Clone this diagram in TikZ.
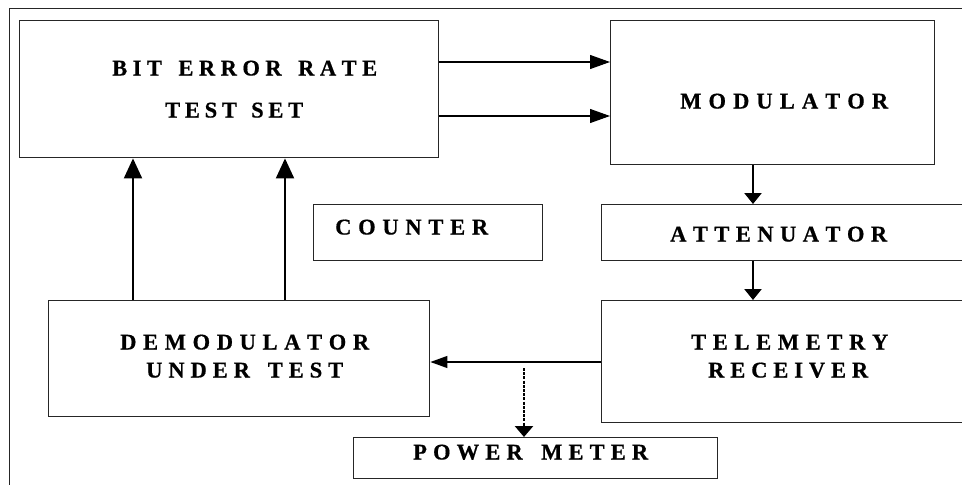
\documentclass[tikz,border=0pt]{standalone}
\usepackage{fontspec}
\setmainfont{Liberation Serif}
\newfontfamily\lblfont{Liberation Serif}[UprightFont=* Bold, FakeBold=0.6]
\usetikzlibrary{arrows.meta}
\makeatletter
\newcommand\sptext[2]{\makebox[#1][s]{\sp@first#2\relax}}
\def\sp@first#1{#1\sp@loop}
\def\sp@loop#1{\ifx#1\relax\else\ifx#1*\hfil\hfil\else\hfil#1\fi\expandafter\sp@loop\fi}
\makeatother
\tikzset{
  box/.style={draw=black!85, line width=1.4pt, rectangle, inner sep=0pt, anchor=north west},
  lbl/.style={anchor=base west, inner sep=0pt, font=\lblfont\fontsize{22.5}{27}\selectfont},
  harrow/.style={line width=1.1pt, -{Triangle[length=20pt,width=14pt]}},
  uparrow/.style={line width=2pt, -{Triangle[length=20pt,width=18pt]}},
  dnarrow/.style={line width=2.5pt, -{Triangle[length=11pt,width=17pt]}},
  larrow/.style={line width=1.1pt, -{Triangle[length=17pt,width=12pt]}},
  dotarrow/.style={line width=2.6pt, dash pattern=on 3pt off 1.2pt, -{Triangle[length=11pt,width=18pt]}},
}
\begin{document}
\begin{tikzpicture}[x=1pt,y=-1pt]
\useasboundingbox (0,0) rectangle (962,485);
\fill[white] (0,0) rectangle (962,485);
% outer frame
\draw[line width=1pt, black!85] (9,485) -- (9,8) -- (962,8);
% boxes
\node[box, minimum width=419pt, minimum height=137pt] (bert) at (19,20) {};
\node[box, minimum width=324pt, minimum height=144pt] (mod) at (610,20) {};
\node[box, minimum width=229pt, minimum height=56pt] (cnt) at (313,204) {};
\node[box, minimum width=374pt, minimum height=56pt] (att) at (601,204) {};
\node[box, minimum width=381pt, minimum height=116pt] (demod) at (48,300) {};
\node[box, minimum width=374pt, minimum height=122pt] (tel) at (601,300) {};
\node[box, minimum width=364pt, minimum height=41pt] (pwr) at (353,437) {};
% labels
\node[lbl] (t1) at (112,75.5) {\sptext{265pt}{BIT*ERROR*RATE}};
\node[lbl] (t2) at (165,117.5) {\sptext{138pt}{TEST*SET}};
\node[lbl] (t3) at (680,108.5) {\sptext{208pt}{MODULATOR}};
\node[lbl] (t4) at (335,234.5) {\sptext{153pt}{COUNTER}};
\node[lbl] (t5) at (670,241.5) {\sptext{217pt}{ATTENUATOR}};
\node[lbl] (t6) at (691,349.5) {\sptext{197pt}{TELEMETRY}};
\node[lbl] (t7) at (708,377.5) {\sptext{160pt}{RECEIVER}};
\node[lbl] (t8) at (120,349.5) {\sptext{249pt}{DEMODULATOR}};
\node[lbl] (t9) at (146,377.5) {\sptext{197pt}{UNDER*TEST}};
\node[lbl] (t10) at (413,459.5) {\sptext{235pt}{POWER*METER}};
% helper coordinates
\coordinate (ya) at (0,62);
\coordinate (yb) at (0,116);
\coordinate (xa) at (133,0);
\coordinate (xb) at (285,0);
\coordinate (xc) at (753,0);
\coordinate (yc) at (0,362);
\coordinate (dstart) at (524,368);
% connectors
\draw[harrow] (bert.east |- ya) -- (mod.west |- ya);
\draw[harrow] (bert.east |- yb) -- (mod.west |- yb);
\draw[uparrow] (demod.north -| xa) -- (bert.south -| xa);
\draw[uparrow] (demod.north -| xb) -- (bert.south -| xb);
\draw[dnarrow] (mod.south -| xc) -- (att.north -| xc);
\draw[dnarrow] (att.south -| xc) -- (tel.north -| xc);
\draw[larrow] (tel.west |- yc) -- (demod.east |- yc);
\draw[dotarrow] (dstart) -- (dstart |- pwr.north);
\end{tikzpicture}
\end{document}
